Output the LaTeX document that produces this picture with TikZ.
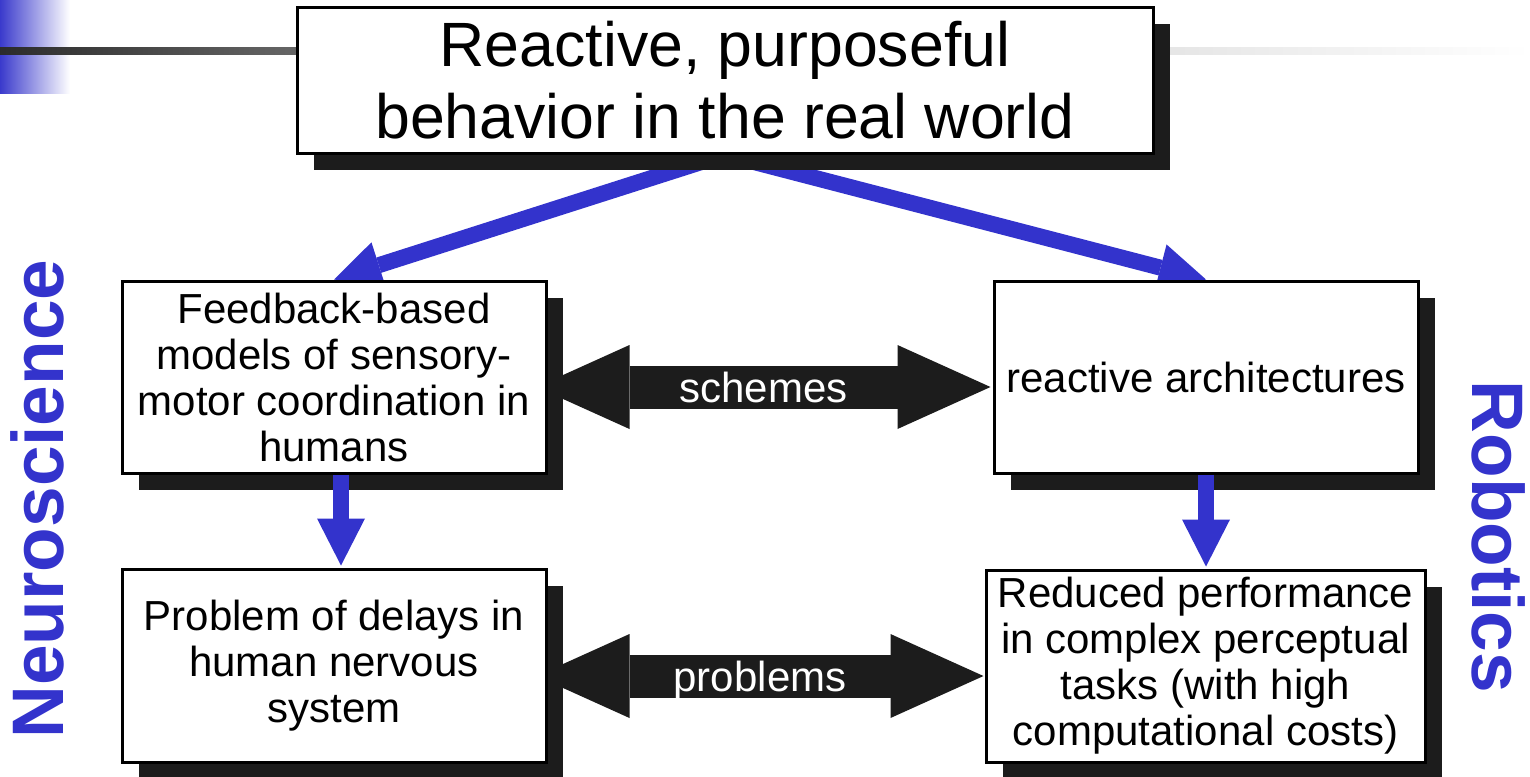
\documentclass[tikz,border=0pt]{standalone}
\usepackage{xcolor}
\usepackage{fontspec}
\setmainfont{Liberation Sans}
\usepackage{tikz}
\usetikzlibrary{arrows.meta,positioning,calc,shadows,backgrounds}

\definecolor{robblue}{RGB}{51,51,204}
\definecolor{barblue}{RGB}{58,58,204}
\definecolor{shadowgray}{RGB}{28,28,28}

\begin{document}
\begin{tikzpicture}[x=0.5pt,y=-0.5pt,
    box/.style={draw,line width=1.5pt,fill=white,align=center,inner sep=0pt,
      font=\fontsize{21}{23}\selectfont,
      drop shadow={shadow xshift=8.5pt,shadow yshift=-8.5pt,fill=shadowgray,opacity=1}},
    downarrow/.style={robblue,line width=8pt,-{Triangle[length=23.5pt,width=24pt,line width=0pt]}},
    linkarrow/.style={shadowgray,line width=21.5pt,
      {Triangle[length=46.5pt,width=42pt,line width=0pt]}-{Triangle[length=46.5pt,width=42pt,line width=0pt]}},
    linklabel/.style={white,font=\fontsize{21}{23}\selectfont,text depth=0pt,inner sep=0pt},
    side/.style={robblue,font=\fontsize{36.5}{40}\selectfont\bfseries}]
  \useasboundingbox (0,0) rectangle (1530,776);
  % title bars
  \shade[left color=barblue,right color=white] (0,0) rectangle (70,93);
  \shade[left color=black!83,right color=black!60] (0,47) rectangle (297,54);
  \shade[left color=black!10,right color=white] (1170,47) rectangle (1530,54);

  % boxes
  \node[box,minimum width=428pt,minimum height=73pt,font=\fontsize{31.3}{36}\selectfont]
    (goal) at (725,80) {Reactive, purposeful\\behavior in the real world};
  \node[box,minimum width=212pt,minimum height=96pt] (feed) at (334,377)
    {Feedback-based\\models of sensory-\\motor coordination in\\humans};
  \node[box,minimum width=212pt,minimum height=96pt] (react) at (1206,377)
    {reactive architectures};
  \node[box,minimum width=212pt,minimum height=96.5pt] (prob) at (334,665.5)
    {Problem of delays in\\human nervous\\system};
  \node[box,minimum width=219.5pt,minimum height=96pt] (reduce) at (1205.5,666)
    {Reduced performance\\in complex perceptual\\tasks (with high\\computational costs)};

  \begin{pgfonlayer}{background}
    \draw[downarrow] (goal.south) -- (feed.north);
    \draw[downarrow] (goal.south) -- (react.north);
    \draw[linkarrow] ($(feed.east)+(-11,10)$) -- ($(react.west)+(-2,10)$)
      node[linklabel,midway] (schemes) {schemes};
    \draw[linkarrow] ($(prob.east)+(-11,10.5)$) -- ($(reduce.west)+(-1,10)$)
      node[linklabel,midway] (problems) {problems};
  \end{pgfonlayer}

  \draw[downarrow] ($(feed.south)+(7,0)$) -- ($(prob.north)+(7,-2)$);
  \draw[downarrow] (react.south) -- ($(reduce.north)+(0.5,-2)$);

  % side titles
  \node[side,rotate=90] (neuro) at (37,499) {Neuroscience};
  \node[side,rotate=-90] (robot) at (1499,537) {Robotics};
\end{tikzpicture}
\end{document}
